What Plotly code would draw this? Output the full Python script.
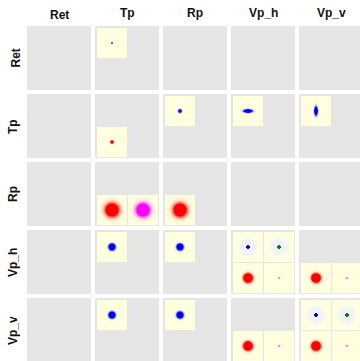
import numpy as np
import plotly.graph_objects as go

# populations (rows = source, columns = target)
pops = ["Ret", "Tp", "Rp", "Vp_h", "Vp_v"]

# one entry per kernel blob
blob_src = [0, 1, 1, 1, 1, 2, 2, 2, 3, 3, 3, 3, 3, 3, 3, 3, 4, 4, 4, 4, 4, 4, 4, 4]
blob_tgt = [1, 1, 2, 3, 4, 1, 1, 2, 1, 2, 3, 3, 3, 3, 4, 4, 1, 2, 3, 3, 4, 4, 4, 4]
# sub panel: 0 top-left, 1 top-right, 2 bottom-left, 3 bottom-right
blob_sub = [0, 2, 0, 0, 0, 2, 3, 2, 0, 0, 0, 1, 2, 3, 2, 3, 0, 0, 2, 3, 0, 1, 2, 3]
blob_kind = ["b", "r", "b", "b", "b", "r", "m", "r", "b", "b", "b", "g", "r", "m", "r", "m",
             "b", "b", "r", "m", "b", "g", "r", "m"]
blob_sx = [0.6, 1.0, 1.1, 2.6, 1.0, 4.0, 4.0, 4.0, 1.7, 1.7, 1.0, 1.0, 2.3, 0.7, 2.3, 0.7,
           1.7, 1.7, 2.3, 0.7, 1.0, 1.0, 2.3, 0.7]
blob_sy = [0.6, 1.0, 1.1, 1.0, 2.6, 4.0, 4.0, 4.0, 1.7, 1.7, 1.0, 1.0, 2.3, 0.7, 2.3, 0.7,
           1.7, 1.7, 2.3, 0.7, 1.0, 1.0, 2.3, 0.7]
blob_amp = [1.2, 2.5, 2.2, 3.0, 3.0, 3.0, 3.0, 3.0, 6.0, 6.0, 3.5, 3.5, 6.0, 0.8, 6.0, 0.8,
            6.0, 6.0, 6.0, 0.8, 3.5, 3.5, 6.0, 0.8]
blob_halo = [0, 0, 0, 0, 0, 0, 0, 0, 0, 0, 3.5, 3.5, 0, 0, 0, 0, 0, 0, 0, 0, 3.5, 3.5, 0, 0]

kind_color = {"b": "#0000ff", "r": "#ff0000", "m": "#ff00ff", "g": "#008000"}
GRAY = "#e5e5e5"
YELLOW = "#ffffe0"
HALO = "#f2f2fa"

W, H = 360, 361
ML, MT = 27, 26
PITCH, CELL, SUB, OFF, GAP = 68, 64, 30, 2, 1

fig = go.Figure()

shapes = []
for i in range(len(pops)):
    for j in range(len(pops)):
        shapes.append(dict(type="rect", xref="x", yref="y", layer="below",
                           x0=PITCH * j, x1=PITCH * j + CELL,
                           y0=PITCH * i, y1=PITCH * i + CELL,
                           fillcolor=GRAY, line=dict(width=0)))

c = np.arange(SUB) + 0.5 - SUB / 2
X, Y = np.meshgrid(c, c)
for s, t, sb, k, sx, sy, a, h in zip(blob_src, blob_tgt, blob_sub, blob_kind,
                                      blob_sx, blob_sy, blob_amp, blob_halo):
    left = PITCH * t + OFF + (sb % 2) * (SUB + GAP)
    top = PITCH * s + OFF + (sb // 2) * (SUB + GAP)
    pos = np.clip(a * np.exp(-(X ** 2 / (2 * sx ** 2) + Y ** 2 / (2 * sy ** 2))), 0, 1)
    if h > 0:
        neg = np.clip(10 * np.exp(-(X ** 2 + Y ** 2) / (2 * h ** 2)), 0, 1)
        z = pos - neg * (1 - pos)
    else:
        z = pos
    fig.add_trace(go.Heatmap(
        z=z, x0=left + 0.5, dx=1, y0=top + 0.5, dy=1,
        zmin=-1, zmax=1, zsmooth=False, showscale=False, hoverinfo="skip",
        colorscale=[[0, HALO], [0.5, YELLOW], [1, kind_color[k]]]))


def px_x(p):
    return (p - ML) / (W - ML)


def px_y(p):
    return (H - p) / (H - MT)


font = dict(family="Liberation Sans, Arial, sans-serif", size=12, color="#111111")
ann = []
for idx, p in enumerate(pops):
    shift = 0 if any(ch in p for ch in "p_") else 2.5
    ann.append(dict(text="<b>%s</b>" % p, x=px_x(ML + PITCH * idx + CELL / 2),
                    y=px_y(12.5 + shift), xref="paper", yref="paper", showarrow=False,
                    font=font, xanchor="center", yanchor="middle"))
    ann.append(dict(text="<b>%s</b>" % p, x=px_x(13 + shift),
                    y=px_y(MT + PITCH * idx + CELL / 2), xref="paper", yref="paper",
                    showarrow=False, font=font, textangle=-90,
                    xanchor="center", yanchor="middle"))

fig.update_layout(
    width=W, height=H,
    margin=dict(l=ML, r=0, t=MT, b=0),
    paper_bgcolor="white", plot_bgcolor="white",
    xaxis=dict(range=[0, W - ML], visible=False, fixedrange=True),
    yaxis=dict(range=[H - MT, 0], visible=False, fixedrange=True),
    shapes=shapes, annotations=ann, showlegend=False,
)

fig.write_html("out.html")
